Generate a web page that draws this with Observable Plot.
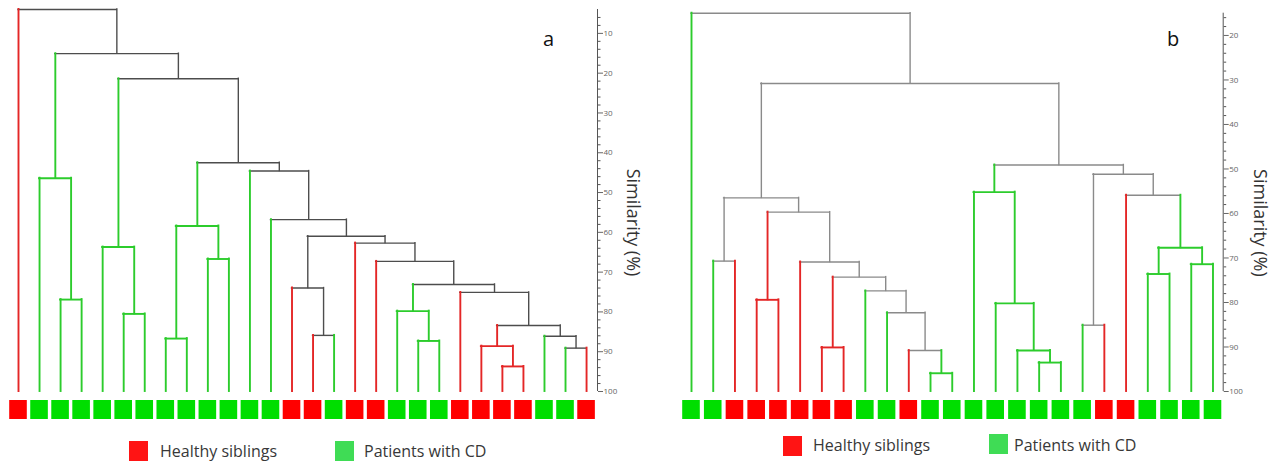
<!DOCTYPE html>
<html>
<head>
<meta charset="utf-8">
<script src="https://cdn.jsdelivr.net/npm/d3@7"></script>
<script src="https://cdn.jsdelivr.net/npm/@observablehq/plot@0.6"></script>
<style>
  html, body { margin: 0; padding: 0; background: #fff; }
  #wrap { position: relative; width: 1275px; height: 464px; overflow: hidden; font-family: "Open Sans", sans-serif; }
  .panel { position: absolute; top: 0; height: 464px; }
  .sw { position: absolute; width: 19px; height: 20px; }
  .lt { position: absolute; font-size: 16px; line-height: 20px; color: #383838; white-space: nowrap; }
</style>
</head>
<body>
<div id="wrap"></div>
<script>
// ---- data ----
// leaf classes in dendrogram order: H = healthy sibling, P = patient with CD
const classesA = ["H","P","P","P","P","P","P","P","P","P","P","P","P","H","H","P","H","H","P","P","P","H","H","H","H","P","P","H"];
// merges: [child1, child2, similarity %]; ids < n are leaves, ids >= n are earlier merges (n + k)
const mergesA = [
  [2, 3, 76.9], [1, 28, 46.4], [5, 6, 80.5], [4, 30, 63.7], [7, 8, 86.7], [9, 10, 66.7],
  [32, 33, 58.4], [14, 15, 85.9], [13, 35, 74.0], [19, 20, 87.3], [18, 37, 79.8],
  [23, 24, 93.7], [22, 39, 88.6], [26, 27, 89.1], [25, 41, 86.1], [40, 42, 83.4],
  [21, 43, 75.1], [38, 44, 73.1], [17, 45, 67.3], [16, 46, 62.7], [36, 47, 61.0],
  [12, 48, 56.8], [11, 49, 44.6], [34, 50, 42.5], [31, 51, 21.4], [29, 52, 15.1], [0, 53, 4.0]
];
const classesB = ["P","P","H","H","H","H","H","H","P","P","H","P","P","P","P","P","P","P","P","H","H","P","P","P","P"];
const mergesB = [
  [1, 2, 70.7], [3, 4, 79.4], [6, 7, 90.1], [11, 12, 95.9], [10, 28, 90.8], [9, 29, 82.3],
  [8, 30, 77.4], [27, 31, 74.3], [5, 32, 70.9], [26, 33, 59.7], [25, 34, 56.5],
  [16, 17, 93.5], [15, 36, 90.8], [14, 37, 80.2], [13, 38, 55.2], [18, 19, 85.1],
  [21, 22, 73.6], [23, 24, 71.4], [41, 42, 67.7], [20, 43, 55.9], [40, 44, 51.2],
  [39, 45, 49.1], [35, 46, 30.8], [0, 47, 15.0]
];
const ticksA = [10, 20, 30, 40, 50, 60, 70, 80, 90, 100];
const ticksB = [20, 30, 40, 50, 60, 70, 80, 90, 100];
const axisTopA = 4;
const axisTopB = 15;
const yLabel = "Similarity (%)";
const panelLabels = ["a", "b"];
const legendLabels = ["Healthy siblings", "Patients with CD"];

// ---- styles ----
const lineColor = {H: "#e42626", P: "#2ccc2c"};
const boxColor = {H: "#ff0000", P: "#00de00"};
const legendColor = {H: "#ff1414", P: "#3fdc55"};

function layout(classes, merges) {
  const n = classes.length;
  const pos = classes.map((_, i) => i);
  const h = classes.map(() => 100);
  const cls = classes.slice();
  const horiz = [], vert = [];
  merges.forEach(([a, b, s], k) => {
    const id = n + k;
    pos[id] = (pos[a] + pos[b]) / 2;
    h[id] = s;
    cls[id] = cls[a] === cls[b] ? cls[a] : "M";
    horiz.push({x1: pos[a], x2: pos[b], y: s, c: cls[id]});
    vert.push({x: pos[a], y1: s, y2: h[a], c: cls[a]});
    vert.push({x: pos[b], y1: s, y2: h[b], c: cls[b]});
  });
  return {horiz, vert};
}

function panel(cfg) {
  const {classes, merges, yTop, ticks, width, marginLeft, marginRight, marginTop, gap, gray, label, labelDx, labelDy, letterDx, letterDy} = cfg;
  const H = 430, bottomPx = 391;
  const marginBottom = H - bottomPx;
  const n = classes.length;
  const xMax = n - 1 + gap;
  const k = (bottomPx - marginTop) / (100 - yTop); // px per unit
  const sqY1 = 100 + 9 / k, sqY2 = 100 + 28 / k;
  const pitch = (width - marginLeft - marginRight) / xMax;
  const half = 8.8 / pitch;
  const {horiz, vert} = layout(classes, merges);
  const minor = d3.range(Math.ceil((yTop + 1) / 2) * 2, 100, 2).filter(v => v % 10 !== 0);
  const leaves = classes.map((c, i) => ({i, c}));
  const col = c => c === "M" ? gray : lineColor[c];
  const sw = c => c === "M" ? 1.4 : 1.9;
  const marks = [];
  for (const c of ["M", "H", "P"]) {
    marks.push(Plot.ruleY(horiz.filter(d => d.c === c), {y: "y", x1: "x1", x2: "x2", stroke: col(c), strokeWidth: sw(c), strokeLinecap: "square"}));
    marks.push(Plot.ruleX(vert.filter(d => d.c === c), {x: "x", y1: "y1", y2: "y2", stroke: col(c), strokeWidth: sw(c), strokeLinecap: "square"}));
  }
  for (const c of ["H", "P"]) {
    marks.push(Plot.rect(leaves.filter(d => d.c === c), {x1: d => d.i - half, x2: d => d.i + half, y1: sqY1, y2: sqY2, fill: boxColor[c]}));
  }
  marks.push(Plot.ruleX([xMax], {y1: yTop, y2: 100, stroke: "#555", strokeWidth: 1}));
  marks.push(Plot.axisY({anchor: "right", ticks: minor, tickSize: 2.5, tickFormat: () => "", label: null, color: "#555"}));
  marks.push(Plot.axisY({anchor: "right", ticks, tickSize: 5, tickPadding: 1, fontSize: 8, label: null, color: "#666"}));
  marks.push(Plot.text([yLabel], {frameAnchor: "right", textAnchor: "middle", lineAnchor: "middle", rotate: 90, dx: labelDx, dy: labelDy, fontSize: 18, fill: "#333", fontFamily: "Open Sans"}));
  marks.push(Plot.text([label], {frameAnchor: "top-right", textAnchor: "middle", lineAnchor: "bottom", dx: letterDx, dy: letterDy, fontSize: 20, fill: "#111", fontFamily: "Open Sans"}));
  return Plot.plot({
    width, height: H, marginLeft, marginRight, marginTop, marginBottom,
    x: {domain: [0, xMax], axis: null},
    y: {domain: [yTop, 100], reverse: true},
    style: {background: "transparent", overflow: "visible", fontFamily: "Open Sans"},
    marks
  });
}

function legend(container, items) {
  for (const it of items) {
    const s = document.createElement("div");
    s.className = "sw";
    s.style.left = it.sx + "px"; s.style.top = it.sy + "px"; s.style.background = legendColor[it.c];
    container.appendChild(s);
    const t = document.createElement("div");
    t.className = "lt";
    t.style.left = it.tx + "px"; t.style.top = it.ty + "px";
    t.textContent = it.text;
    container.appendChild(t);
  }
}

const wrap = document.getElementById("wrap");
const pa = document.createElement("div"); pa.className = "panel"; pa.style.left = "0px"; pa.style.width = "640px";
const pb = document.createElement("div"); pb.className = "panel"; pb.style.left = "640px"; pb.style.width = "635px";
wrap.appendChild(pa); wrap.appendChild(pb);

pa.appendChild(panel({classes: classesA, merges: mergesA, yTop: axisTopA, ticks: ticksA, width: 640,
  marginLeft: 18, marginRight: 43, marginTop: 9, gap: 0.52, gray: "#4d4d4d", label: panelLabels[0],
  labelDx: 35, labelDy: 22, letterDx: -49, letterDy: 36}));
pb.appendChild(panel({classes: classesB, merges: mergesB, yTop: axisTopB, ticks: ticksB, width: 635,
  marginLeft: 51, marginRight: 52.3, marginTop: 12.7, gap: 0.47, gray: "#8a8a8a", label: panelLabels[1],
  labelDx: 37, labelDy: 20.6, letterDx: -50, letterDy: 32.3}));

legend(pa, [
  {c: "H", sx: 129, sy: 441, tx: 160, ty: 441, text: legendLabels[0]},
  {c: "P", sx: 335, sy: 441, tx: 364, ty: 441, text: legendLabels[1]}
]);
legend(pb, [
  {c: "H", sx: 143, sy: 436, tx: 173, ty: 435, text: legendLabels[0]},
  {c: "P", sx: 349, sy: 434, tx: 374, ty: 435, text: legendLabels[1]}
]);
</script>
</body>
</html>
